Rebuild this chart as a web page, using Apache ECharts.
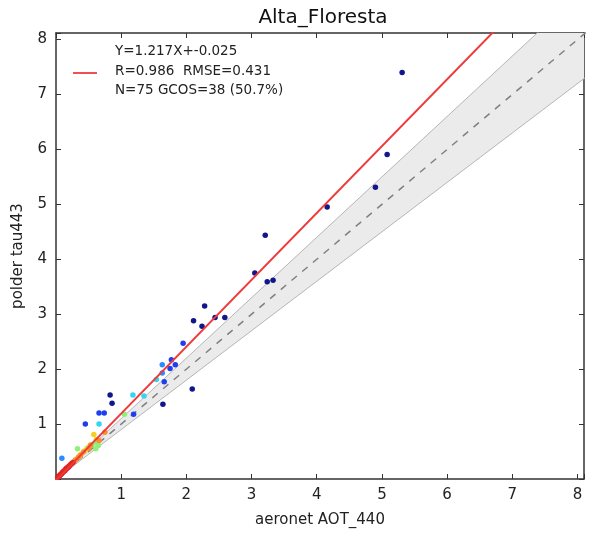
<!DOCTYPE html>
<html>
<head>
<meta charset="utf-8">
<script src="https://cdn.jsdelivr.net/npm/echarts@6/dist/echarts.min.js"></script>
<style>html,body{margin:0;padding:0;background:#fff;}#c{width:591px;height:533px;}</style>
</head>
<body>
<div id="c"></div>
<script>
// ---- data ----
var titleText = 'Alta_Floresta';
var xName = 'aeronet AOT_440';
var yName = 'polder tau443';
var legendLines = ['Y=1.217X+-0.025', 'R=0.986  RMSE=0.431', 'N=75 GCOS=38 (50.7%)'];
var tickValues = [1, 2, 3, 4, 5, 6, 7, 8];

// jet-like colour groups (low density -> high density)
var palette = ['#10168c', '#1f3ef2', '#2a8cff', '#33d6f2', '#8ff07a', '#f5d023', '#f79030', '#e02424'];

// [aeronet, polder, colourIndex]
var points = [
  [5.31, 7.40, 0], [5.08, 5.91, 0], [4.90, 5.31, 0], [4.16, 4.95, 0], [3.21, 4.44, 0],
  [3.05, 3.75, 0], [3.24, 3.59, 0], [3.33, 3.62, 0], [2.28, 3.15, 0], [2.11, 2.88, 0],
  [2.44, 2.94, 0], [2.59, 2.94, 0], [2.24, 2.78, 0], [2.09, 1.64, 0], [1.64, 1.36, 0],
  [0.83, 1.53, 0], [0.86, 1.38, 0],
  [1.95, 2.47, 1], [1.77, 2.17, 1], [1.83, 2.08, 1], [1.75, 2.01, 1], [1.66, 1.77, 1],
  [0.66, 1.20, 1], [0.74, 1.20, 1], [1.19, 1.18, 1], [0.45, 1.00, 1],
  [1.63, 2.08, 2], [1.63, 1.93, 2], [0.09, 0.38, 2],
  [1.54, 1.81, 3], [1.35, 1.51, 3], [1.18, 1.53, 3], [0.66, 1.00, 3],
  [1.05, 1.18, 4], [0.65, 0.61, 4], [0.61, 0.55, 4], [0.33, 0.55, 4],
  [0.55, 0.62, 4], [0.48, 0.56, 4], [0.60, 0.66, 4],
  [0.58, 0.81, 5], [0.36, 0.42, 5], [0.45, 0.52, 5], [0.50, 0.58, 5], [0.62, 0.72, 5],
  [0.75, 0.85, 6], [0.66, 0.70, 6], [0.51, 0.56, 6], [0.28, 0.32, 6], [0.30, 0.35, 6],
  [0.34, 0.39, 6], [0.38, 0.44, 6], [0.42, 0.49, 6], [0.53, 0.62, 6],
  [0.03, 0.03, 7], [0.04, 0.05, 7], [0.05, 0.05, 7], [0.06, 0.07, 7], [0.07, 0.08, 7],
  [0.08, 0.09, 7], [0.09, 0.10, 7], [0.10, 0.12, 7], [0.11, 0.13, 7], [0.12, 0.14, 7],
  [0.13, 0.15, 7], [0.14, 0.16, 7], [0.15, 0.18, 7], [0.16, 0.19, 7], [0.17, 0.20, 7],
  [0.18, 0.21, 7], [0.19, 0.22, 7], [0.20, 0.23, 7], [0.22, 0.26, 7], [0.24, 0.28, 7],
  [0.26, 0.30, 7]
];

// regression line endpoints (Y = 1.217X - 0.025)
var fitX = [0, 8.2];
var fitY = [-0.025, 9.954];
// 1:1 line
var oneX = [0, 8.2];
var oneY = [0, 8.2];
// GCOS envelope (+/- max(0.03, 10%))
var envX = [0, 0.3, 8.2];
var envUpper = [0.03, 0.33, 9.02];
var envLower = [-0.03, 0.27, 7.38];

var xMin = 0, xMax = 8.1, yMin = 0, yMax = 8.12;

// ---- chart ----
function zip(a, b) { return a.map(function (v, i) { return [v, b[i]]; }); }
var font = 'DejaVu Sans';
var sorted = points.slice().sort(function (a, b) { return a[2] - b[2]; });
function lab(v) { return (tickValues.indexOf(Math.round(v * 1000) / 1000) >= 0) ? String(v) : ''; }

var axisCommon = {
  type: 'value', interval: 1,
  axisLine: { show: true, onZero: false, lineStyle: { color: '#333', width: 1.5 } },
  axisTick: { show: true, inside: true, length: 5, lineStyle: { color: '#333', width: 1 } },
  splitLine: { show: false }
};

var chart = echarts.init(document.getElementById('c'), null, { renderer: 'canvas' });
chart.setOption({
  animation: false,
  backgroundColor: '#fff',
  title: {
    text: titleText, left: 318, top: 3, textAlign: 'center',
    textStyle: { fontFamily: font, fontSize: 20, fontWeight: 'normal', color: '#111' }
  },
  grid: { left: 56, right: 7, top: 33, bottom: 53 },
  xAxis: [
    Object.assign({}, axisCommon, {
      min: xMin, max: xMax, position: 'bottom',
      name: xName, nameLocation: 'middle', nameGap: 34,
      nameTextStyle: { fontFamily: font, fontSize: 15, color: '#222' },
      axisLabel: { margin: 9, fontFamily: font, fontSize: 15, color: '#222', formatter: lab, showMinLabel: true, showMaxLabel: true }
    }),
    Object.assign({}, axisCommon, {
      min: xMin, max: xMax, position: 'top', axisLabel: { show: false }
    })
  ],
  yAxis: [
    Object.assign({}, axisCommon, {
      min: yMin, max: yMax, position: 'left',
      name: yName, nameLocation: 'middle', nameGap: 30,
      nameTextStyle: { fontFamily: font, fontSize: 15, color: '#222' },
      axisLabel: { margin: 9, fontFamily: font, fontSize: 15, color: '#222', formatter: lab }
    }),
    Object.assign({}, axisCommon, {
      min: yMin, max: yMax, position: 'right', axisLabel: { show: false }
    })
  ],
  graphic: [
    { type: 'line', shape: { x1: 73, y1: 73, x2: 97, y2: 73 }, style: { stroke: '#f05050', lineWidth: 2 } },
    { type: 'text', left: 115, top: 44, style: { text: legendLines[0], font: '13.5px "DejaVu Sans"', fill: '#222' } },
    { type: 'text', left: 115, top: 64, style: { text: legendLines[1], font: '13.5px "DejaVu Sans"', fill: '#222' } },
    { type: 'text', left: 115, top: 83, style: { text: legendLines[2], font: '13.5px "DejaVu Sans"', fill: '#222' } }
  ],
  series: [
    {
      type: 'custom', clip: true, z: 1, silent: true,
      data: [0],
      renderItem: function (params, api) {
        var pts = [];
        for (var i = 0; i < envX.length; i++) pts.push(api.coord([envX[i], envUpper[i]]));
        for (var j = envX.length - 1; j >= 0; j--) pts.push(api.coord([envX[j], envLower[j]]));
        return { type: 'polygon', shape: { points: pts }, style: { fill: '#ebebeb' } };
      }
    },
    { type: 'line', data: zip(envX, envUpper), showSymbol: false, z: 2, lineStyle: { color: '#b5b5b5', width: 1 } },
    { type: 'line', data: zip(envX, envLower), showSymbol: false, z: 2, lineStyle: { color: '#b5b5b5', width: 1 } },
    { type: 'line', data: zip(oneX, oneY), showSymbol: false, z: 3, lineStyle: { color: '#808080', width: 1.5, type: [7, 7] } },
    {
      type: 'scatter', z: 4, symbolSize: 5.5,
      data: sorted,
      itemStyle: { opacity: 1, color: function (p) { return palette[p.data[2]]; } }
    },
    { type: 'line', data: zip(fitX, fitY), showSymbol: false, z: 5, lineStyle: { color: '#ee3a3a', width: 2 } }
  ]
});
</script>
</body>
</html>
